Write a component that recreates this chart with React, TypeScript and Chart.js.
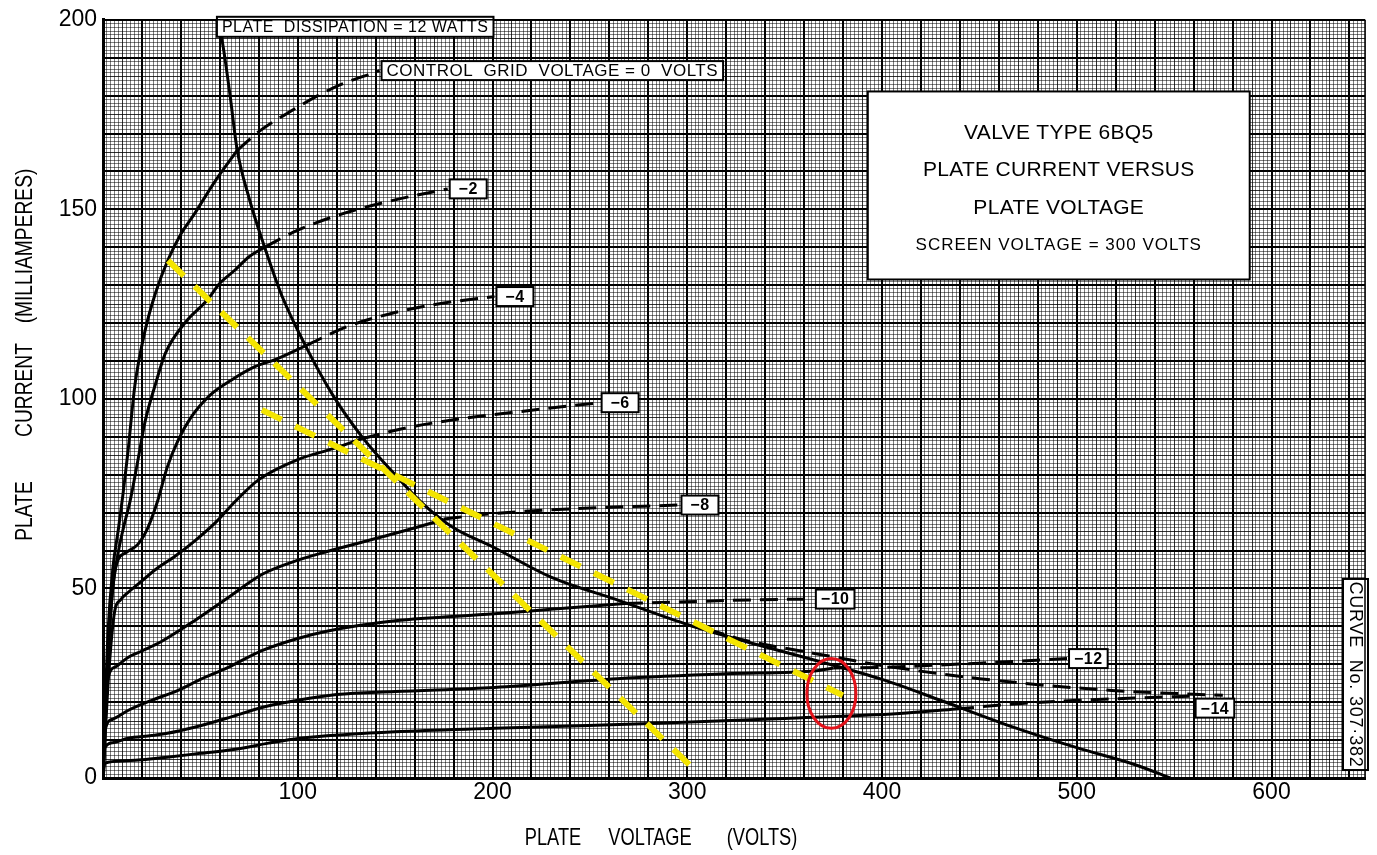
import React, { useEffect, useRef } from 'react';
import { Chart, registerables } from 'chart.js';
Chart.register(...registerables);

type Pt = [number, number];

// ---- axis ticks ----
const xTickLabels = [100, 200, 300, 400, 500, 600];
const yTickLabels = [0, 50, 100, 150, 200];

// ---- plate curves (plate volts, plate mA) ----
const g0Solid: Pt[] = [[0, 0], [1, 18], [2.5, 38], [5, 55], [8, 66], [10.3, 75], [12.8, 86], [16.4, 103.7], [21.6, 118], [27, 128], [33.4, 136.7], [40, 143.5], [47.2, 149], [57, 157], [68.8, 165.5]];
const g0Dash: Pt[] = [[68.8, 165.5], [80, 170.5], [94.5, 175.3], [118, 182], [142, 186.6]];

const g2Solid: Pt[] = [[0, 0], [1, 15], [2.5, 32], [5, 50], [8, 60], [10.5, 66], [13.9, 73], [18, 84], [21.6, 94], [27, 104], [32, 112], [42, 120], [53.4, 126], [60, 130.5], [67.8, 134], [75, 137.5], [83, 140]];
const g2Dash: Pt[] = [[83, 140], [100, 144.5], [124, 149], [150, 152.5], [177, 155.4]];

const g4Solid: Pt[] = [[0, 0], [1, 12], [3, 35], [5, 50], [7, 56.5], [12, 59.5], [18, 61.7], [23, 66], [28, 73], [33, 82], [38.5, 89], [45, 95], [55, 101], [66, 105], [78, 108.5], [89, 110.5], [104, 114]];
const g4Dash: Pt[] = [[104, 114], [125, 119], [150, 122.8], [175, 125.3], [201, 127]];

const g6Solid: Pt[] = [[0, 0], [1, 10], [3, 28], [6, 44], [9, 47], [13, 49], [20, 52], [27, 55], [37, 58.5], [47, 62.5], [58, 67.5], [68, 73], [80, 78.7], [100, 84], [119, 87], [133, 89.5]];
const g6Dash: Pt[] = [[133, 89.5], [152.5, 92], [180, 94.5], [220, 97], [255, 99]];

const g8Solid: Pt[] = [[0, 0], [1, 18], [2.6, 26.5], [7, 29.5], [12.8, 31.8], [20, 33.5], [30, 36], [47, 41.5], [64, 47.5], [82, 53.8], [98.6, 57.2], [115.5, 59.8], [141, 63.3], [167, 67], [175, 68.3]];
const g8Dash: Pt[] = [[175, 68.3], [195, 69.5], [240, 71], [296, 72]];

const g10Solid: Pt[] = [[0, 0], [1, 12.5], [5, 15.5], [12.8, 17.8], [25, 20.5], [38.5, 23.1], [50, 26], [64, 29.1], [81.6, 33.6], [100, 36.8], [115.5, 38.8], [150, 41.5], [201, 43.3], [230, 44.5], [268, 46]];
const g10Dash: Pt[] = [[268, 46], [300, 46.5], [335, 47], [365, 47.2]];

const g12Solid: Pt[] = [[0, 0], [1, 8], [5, 9.3], [12.8, 10.5], [25, 11.2], [33, 11.8], [47, 13.4], [65, 16], [81.6, 18.6], [100, 20.5], [120, 22], [150, 22.8], [201, 23.9], [264, 26.2], [320, 27.5], [366.5, 28.3], [375, 29]];
const g12Dash: Pt[] = [[375, 29], [400, 29.2], [450, 30.3], [495, 31.5]];

const g14Solid: Pt[] = [[0, 0], [1, 3.9], [10, 4.5], [20, 4.8], [33, 5.5], [50, 6.5], [67, 7.5], [85, 9.2], [101, 10.5], [125, 11.5], [150, 12.2], [201, 13.1], [281, 14.4], [350, 15.7], [409, 17], [438, 18.2]];
const g14Dash: Pt[] = [[438, 18.2], [470, 19.6], [501, 20.5], [530, 21.1], [560, 21.6]];

const extraDash: Pt[] = [[310, 39.3], [330, 36.3], [366, 32.8], [400, 29.7], [450, 26.2], [518, 23.1], [575, 21.8]];

// plate dissipation limit (12 W) curve as drawn
const dissipation: Pt[] = [[58.5, 200], [61, 195], [65, 181], [68.8, 166], [75, 153], [83, 140], [92, 127], [104, 114], [118, 101], [133, 90], [150, 80], [165, 72], [180, 66], [200, 61], [230, 53], [264, 47], [300, 40.5], [330, 36], [366, 31], [400, 26], [430, 20.5], [467, 13.5], [500, 8], [530, 3.5], [548, 0]];

// hand-drawn yellow load lines and red mark
const yellowA: Pt[] = [[33.4, 136.5], [301.3, 3.4]];
const yellowB: Pt[] = [[81.6, 97.1], [379.9, 21.8]];
const redMark = { v: 374, i: 22.3, dv: 12.6, di: 9.2 };

const curveLabels = ['CONTROL  GRID  VOLTAGE = 0  VOLTS', '\u22122', '\u22124', '\u22126', '\u22128', '\u221210', '\u221212', '\u221214'];
const dashSeries = [g0Dash, g2Dash, g4Dash, g6Dash, g8Dash, g10Dash, g12Dash, g14Dash];
const solidSeries = [g0Solid, g2Solid, g4Solid, g6Solid, g8Solid, g10Solid, g12Solid, g14Solid];

const titleLines = ['VALVE TYPE 6BQ5', 'PLATE CURRENT VERSUS', 'PLATE VOLTAGE', 'SCREEN VOLTAGE = 300 VOLTS'];
const xTitleWords = ['PLATE', 'VOLTAGE', '(VOLTS)'];
const yTitleWords = ['PLATE', 'CURRENT', '(MILLIAMPERES)'];

const FONT = "'Liberation Sans', Arial, sans-serif";

const toXY = (a: Pt[]) => a.map(([x, y]) => ({ x, y }));

function drawBox(ctx: CanvasRenderingContext2D, text: string, left: number, cy: number, font: string, h: number, minW: number, padX: number) {
  ctx.save();
  ctx.font = font;
  ctx.letterSpacing = '0.5px';
  const tw = ctx.measureText(text).width;
  const w = Math.max(minW, tw + padX * 2);
  ctx.fillStyle = '#fff';
  ctx.fillRect(left, cy - h / 2, w, h);
  ctx.strokeStyle = '#000';
  ctx.lineWidth = 2;
  ctx.strokeRect(left, cy - h / 2, w, h);
  ctx.fillStyle = '#000';
  ctx.textAlign = 'center';
  ctx.textBaseline = 'middle';
  ctx.fillText(text, left + w / 2, cy + 1);
  ctx.restore();
}

function narrowText(ctx: CanvasRenderingContext2D, text: string, x: number, y: number, sx: number) {
  ctx.save();
  ctx.translate(x, y);
  ctx.scale(sx, 1);
  ctx.fillText(text, 0, 0);
  ctx.restore();
}

const annotations = {
  id: 'annotations',
  afterDatasetsDraw(chart: any) {
    const { ctx, chartArea } = chart;
    const xs = chart.scales.x;
    const ys = chart.scales.y;
    const px = (v: number) => xs.getPixelForValue(v);
    const py = (v: number) => ys.getPixelForValue(v);

    // red ellipse
    ctx.save();
    ctx.strokeStyle = '#e3131b';
    ctx.lineWidth = 3;
    ctx.beginPath();
    const cx = px(redMark.v), cy = py(redMark.i);
    ctx.ellipse(cx, cy, px(redMark.v + redMark.dv) - cx, cy - py(redMark.i + redMark.di), 0, 0, Math.PI * 2);
    ctx.stroke();
    ctx.restore();

    // dissipation label
    drawBox(ctx, 'PLATE  DISSIPATION = 12 WATTS', px(dissipation[0][0]), chartArea.top + 7, `16px ${FONT}`, 20, 0, 5);

    // curve-end labels
    dashSeries.forEach((s, k) => {
      const last = s[s.length - 1];
      const isBig = k === 0;
      const dy = k === 7 ? 12 : 0;
      drawBox(ctx, curveLabels[k], px(last[0]) + 2, py(last[1]) + dy, isBig ? `17px ${FONT}` : `bold 16px ${FONT}`, 19, 37, 5);
    });

    // title box
    const l = px(392.7), r = px(588.8), t = py(181.1), b = py(131.5);
    ctx.save();
    ctx.fillStyle = '#fff';
    ctx.fillRect(l, t, r - l, b - t);
    ctx.strokeStyle = '#000';
    ctx.lineWidth = 2;
    ctx.strokeRect(l, t, r - l, b - t);
    ctx.fillStyle = '#000';
    ctx.textAlign = 'center';
    ctx.textBaseline = 'middle';
    const mx = (l + r) / 2;
    const rows = [0.22, 0.42, 0.62, 0.82];
    titleLines.forEach((line, k) => {
      ctx.font = k < 3 ? `21px ${FONT}` : `17px ${FONT}`;
      ctx.letterSpacing = k < 3 ? '0.3px' : '1px';
      ctx.fillText(line, mx, t + (b - t) * rows[k]);
    });
    ctx.restore();

    // curve number box (vertical)
    ctx.save();
    const bl = chartArea.right - 22, br = chartArea.right + 3, bt = py(52.5), bb = py(2.1);
    ctx.fillStyle = '#fff';
    ctx.fillRect(bl, bt, br - bl, bb - bt);
    ctx.strokeStyle = '#000';
    ctx.lineWidth = 2;
    ctx.strokeRect(bl, bt, br - bl, bb - bt);
    ctx.translate((bl + br) / 2, (bt + bb) / 2);
    ctx.rotate(Math.PI / 2);
    ctx.fillStyle = '#000';
    ctx.font = `18px ${FONT}`;
    ctx.letterSpacing = '0.8px';
    ctx.textAlign = 'center';
    ctx.textBaseline = 'middle';
    ctx.fillText('CURVE  No. 307\u00B7382', 0, 1);
    ctx.restore();

    // top and right frame
    ctx.save();
    ctx.strokeStyle = '#000';
    ctx.lineWidth = 1.5;
    ctx.beginPath();
    ctx.moveTo(chartArea.right, chartArea.top);
    ctx.lineTo(chartArea.right, chartArea.bottom);
    ctx.moveTo(chartArea.left, chartArea.top);
    ctx.lineTo(chartArea.right, chartArea.top);
    ctx.stroke();
    ctx.restore();
  },
  afterDraw(chart: any) {
    const { ctx } = chart;
    ctx.save();
    ctx.fillStyle = '#000';
    ctx.textAlign = 'center';
    ctx.textBaseline = 'middle';
    ctx.font = `24px ${FONT}`;
    const xCenters = [553, 650, 762];
    xTitleWords.forEach((w, k) => narrowText(ctx, w, xCenters[k], 838, 0.76));
    ctx.translate(25, 0);
    ctx.rotate(-Math.PI / 2);
    const yCenters = [511, 390, 246];
    yTitleWords.forEach((w, k) => narrowText(ctx, w, -yCenters[k], 0, 0.8));
    ctx.restore();
  },
};

const gridColor = (major: number, mid: number) => (c: any) => {
  const v = Math.round(c.tick.value);
  if (v % major === 0) return '#000';
  if (v % mid === 0) return 'rgba(0,0,0,0.8)';
  return 'rgba(0,0,0,0.5)';
};
const gridWidth = (major: number) => (c: any) => {
  const v = Math.round(c.tick.value);
  return v % major === 0 ? 2 : 1;
};

export default function App() {
  const ref = useRef<HTMLCanvasElement>(null);
  useEffect(() => {
    document.body.style.margin = '0';
    const canvas = ref.current!;
    const line = (data: Pt[], dashed: boolean) => ({
      data: toXY(data),
      borderColor: '#000',
      borderWidth: 3,
      borderDash: dashed ? [18, 9] : [],
      pointRadius: 0,
      fill: false,
      cubicInterpolationMode: 'monotone' as const,
      order: 2,
    });
    const datasets: any[] = [];
    solidSeries.forEach((s) => datasets.push(line(s, false)));
    dashSeries.forEach((s) => datasets.push(line(s, true)));
    datasets.push(line(extraDash, true));
    datasets.push(line(dissipation, false));
    [yellowA, yellowB].forEach((s) =>
      datasets.push({
        data: toXY(s),
        borderColor: '#f4e500',
        borderWidth: 6,
        borderDash: [22, 15],
        borderCapStyle: 'butt',
        pointRadius: 0,
        fill: false,
        order: 0,
      })
    );

    const tickFont = { family: FONT, size: 23 };
    const chart = new Chart(canvas, {
      type: 'line',
      data: { datasets },
      plugins: [annotations],
      options: {
        responsive: false,
        animation: false,
        layout: { padding: { top: 16, right: 12, left: 0, bottom: 0 } },
        plugins: { legend: { display: false }, tooltip: { enabled: false } },
        scales: {
          x: {
            type: 'linear',
            min: 0,
            max: 648,
            ticks: {
              stepSize: 2,
              autoSkip: false,
              maxRotation: 0,
              minRotation: 0,
              padding: 1,
              color: '#000',
              font: tickFont,
              callback: (v: any) => (xTickLabels.includes(Math.round(Number(v))) ? String(Math.round(Number(v))) : ''),
            },
            grid: { drawTicks: false, color: gridColor(20, 10), lineWidth: gridWidth(20) },
            border: { display: true, color: '#000', width: 3 },
            afterFit: (s: any) => {
              s.height = 77;
            },
          },
          y: {
            type: 'linear',
            min: 0,
            max: 200,
            ticks: {
              stepSize: 1,
              autoSkip: false,
              padding: 6,
              color: '#000',
              font: tickFont,
              callback: (v: any) => (yTickLabels.includes(Math.round(Number(v))) ? String(Math.round(Number(v))) : ''),
            },
            grid: { drawTicks: false, color: gridColor(10, 5), lineWidth: gridWidth(10) },
            border: { display: true, color: '#000', width: 3 },
            afterFit: (s: any) => {
              s.width = 103;
            },
          },
        },
      } as any,
    });
    return () => chart.destroy();
  }, []);
  return (
    <div style={{ width: 1377, height: 855, background: '#fff' }}>
      <canvas ref={ref} width={1377} height={855} style={{ display: 'block' }} />
    </div>
  );
}
